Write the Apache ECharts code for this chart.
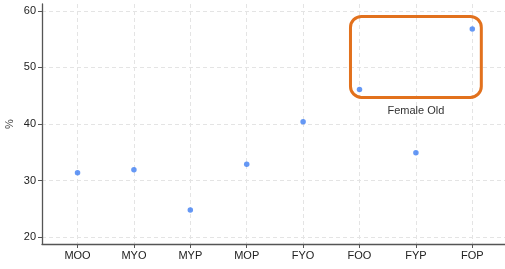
<!DOCTYPE html>
<html>
<head>
<meta charset="utf-8">
<script src="https://cdn.jsdelivr.net/npm/echarts@6/dist/echarts.min.js"></script>
<style>
  html, body { margin: 0; padding: 0; background: #fff; }
  #main { width: 505px; height: 269px; }
</style>
</head>
<body>
<div id="main"></div>
<script>
// groups on the x axis
const categories = ['MOO', 'MYO', 'MYP', 'MOP', 'FYO', 'FOO', 'FYP', 'FOP'];
// percentages
const values = [31.4, 31.9, 24.8, 32.9, 40.4, 46.1, 34.9, 56.8];
const yTicks = [20, 30, 40, 50, 60];
const xTicks = [0, 1, 2, 3, 4, 5, 6, 7];
// highlighted box: FOO .. FOP
const boxLabel = 'Female Old';

const chart = echarts.init(document.getElementById('main'));

const axisColor = '#555';
const gridLine = { show: true, lineStyle: { color: '#e4e4e4', type: [4, 3], width: 1 } };

chart.setOption({
    animation: false,
    grid: { left: 42, right: 0, top: 4, bottom: 25, outerBoundsMode: 'none', containLabel: false },
    xAxis: {
        type: 'value',
        min: -0.63,
        max: 7.58,
        axisLine: { show: true, onZero: false, lineStyle: { color: axisColor, width: 1.3 } },
        axisTick: { show: true, length: 4, customValues: xTicks, lineStyle: { color: axisColor } },
        axisLabel: {
            customValues: xTicks,
            color: '#222',
            fontSize: 11,
            fontFamily: 'Liberation Sans',
            margin: 6,
            formatter: function (v) { return categories[Math.round(v)]; }
        },
        splitLine: gridLine
    },
    yAxis: {
        type: 'value',
        min: 18.8,
        max: 61.2,
        name: '%',
        nameLocation: 'middle',
        nameGap: 27,
        nameRotate: 90,
        nameMoveOverlap: false,
        nameTextStyle: { color: '#444', fontSize: 11, fontFamily: 'Liberation Sans' },
        axisLine: { show: true, onZero: false, lineStyle: { color: axisColor, width: 1.3 } },
        axisTick: { show: true, length: 4, customValues: yTicks, lineStyle: { color: axisColor } },
        axisLabel: {
            customValues: yTicks,
            color: '#222',
            fontSize: 11,
            fontFamily: 'Liberation Sans',
            margin: 6
        },
        splitLine: gridLine
    },
    series: [
        {
            type: 'scatter',
            symbolSize: 5.5,
            itemStyle: { color: '#3f7ef2' },
            data: values.map(function (v, i) { return [i, v]; })
        }
    ]
});

// rounded annotation box around FOO and FOP, placed in data units
const p1 = chart.convertToPixel({ gridIndex: 0 }, [4.84, 59.0]);
const p2 = chart.convertToPixel({ gridIndex: 0 }, [7.16, 44.7]);
chart.setOption({
    graphic: [
        {
            type: 'rect',
            shape: { x: p1[0], y: p1[1], width: p2[0] - p1[0], height: p2[1] - p1[1], r: 11 },
            style: { fill: 'none', stroke: '#e2711d', lineWidth: 3 },
            z: 10
        },
        {
            type: 'text',
            x: (p1[0] + p2[0]) / 2,
            y: p2[1] + 14,
            style: {
                text: boxLabel,
                fill: '#333',
                font: '11px Liberation Sans',
                align: 'center',
                verticalAlign: 'middle'
            },
            z: 10
        }
    ]
});
</script>
</body>
</html>
